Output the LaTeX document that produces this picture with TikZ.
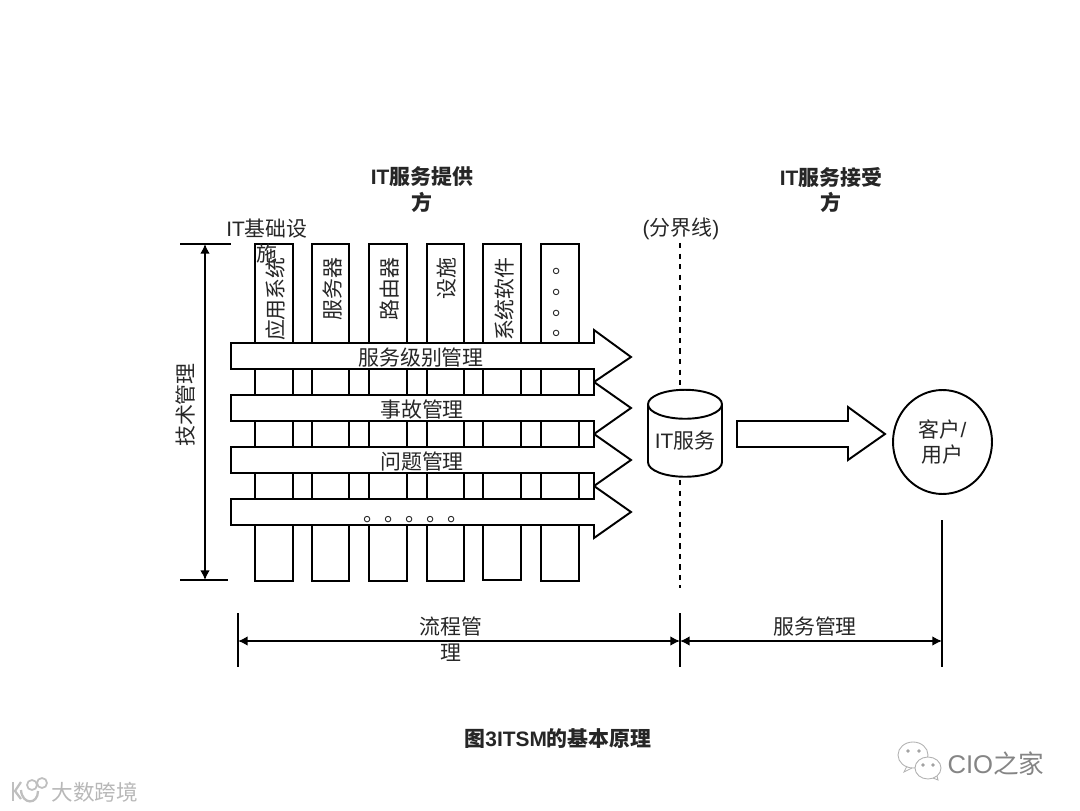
\documentclass[tikz,border=0pt]{standalone}
\usepackage{fontspec}
\setmainfont{Noto Sans CJK SC}
\newfontfamily\itfont{Liberation Sans}
\usetikzlibrary{shapes.geometric,arrows.meta}
\tikzset{
  box/.style={line width=1.1pt,fill=white},
  label/.style={inner sep=0pt,align=center,text=black!85,font=\fontsize{11.9}{14.7}\selectfont},
  head/.style={label,font=\fontsize{11.9}{14.7}\selectfont\bfseries},
  collabel/.style={label,rotate=90,anchor=east},
  dimline/.style={line width=0.9pt},
  dimarrow/.style={line width=0.9pt,{Latex[length=5.5pt,width=5.5pt]}-{Latex[length=5.5pt,width=5.5pt]}},
  mark1/.style={inner sep=0pt,text=black!28,font=\fontsize{12.3}{14}\selectfont},
  mark2/.style={inner sep=0pt,text=black!48,font=\fontsize{14.6}{16}\selectfont}
}
\begin{document}
\begin{tikzpicture}[x=0.02cm,y=-0.02cm]
  \useasboundingbox (0,0) rectangle (1080,811);
  % Titles
  \node[head] (provider) at (422,190) {{\itfont IT}服务提供\\方};
  \node[head] (receiver) at (831,190) {{\itfont IT}服务接受\\方};
  \node[label] (border) at (681,229) {{\itfont (}分界线{\itfont )}};
  % Columns
  \draw[box] (255,244) rectangle (293,581);
  \draw[box] (312,244) rectangle (349,581);
  \draw[box] (369,244) rectangle (407,581);
  \draw[box] (427,244) rectangle (464,581);
  \draw[box] (483,244) rectangle (521,580);
  \draw[box] (541,244) rectangle (579,581);
  \node[collabel] (app) at (276,257) {应用系统};
  \node[collabel] (server) at (333,257) {服务器};
  \node[collabel] (router) at (390,257) {路由器};
  \node[collabel] (facility) at (447,257) {设施};
  \node[collabel] (syssoft) at (505,257) {系统软件};
  \node[collabel] (coldots) at (557,254) {。。。。};
  \node[label] (infra) at (267,241) {{\itfont IT}基础设\\施};
  % Process arrows
  \draw[box] (231,343) -- (594,343) -- (594,330) -- (631,357) -- (594,382) -- (594,369) -- (231,369) -- cycle;
  \draw[box] (231,395) -- (594,395) -- (594,382) -- (631,408) -- (594,434) -- (594,421) -- (231,421) -- cycle;
  \draw[box] (231,447) -- (594,447) -- (594,434) -- (631,460) -- (594,486) -- (594,473) -- (231,473) -- cycle;
  \draw[box] (231,499) -- (594,499) -- (594,486) -- (631,512) -- (594,538) -- (594,525) -- (231,525) -- cycle;
  \node[label] (slm) at (421,358) {服务级别管理};
  \node[label] (incident) at (422,410) {事故管理};
  \node[label] (problem) at (422,462) {问题管理};
  \node[label] (rowdots) at (416,520) {。。。。。};
  % Demarcation line
  \coordinate (bordertop) at (680,243);
  \coordinate (borderlow) at (680,588);
  \node[box,draw,shape=cylinder,shape border rotate=90,aspect=0.48,minimum width=1.48cm,minimum height=1.74cm,inner sep=0pt,font=\fontsize{11.9}{14.7}\selectfont,text=black!85] (itsvc) at (685,441) {{\itfont IT}服务};
  \draw[dimline,dashed] (bordertop) -- (itsvc.north -| bordertop);
  \draw[dimline,dashed] (680,480) -- (borderlow);
  % Service to customer
  \node[box,draw,shape=ellipse,minimum width=1.98cm,minimum height=2.08cm,inner sep=0pt,align=center,font=\fontsize{11.9}{14.7}\selectfont,text=black!85] (client) at (942.5,442) {客户{\itfont /}\\用户};
  \draw[box] (737,421) -- (848,421) -- (848,407) -- (885,434) -- (848,460) -- (848,447) -- (737,447) -- cycle;
  % Dimension lines
  \coordinate (tl) at (180,244);
  \coordinate (tr) at (231,244);
  \coordinate (bl) at (180,580);
  \coordinate (br) at (228,580);
  \coordinate (ta) at (205,244);
  \coordinate (ba) at (205,580);
  \draw[dimline] (tl) -- (tr);
  \draw[dimline] (bl) -- (br);
  \draw[dimarrow] (ta) -- (ba);
  \node[label,rotate=90] (tech) at (186,405) {技术管理};
  \coordinate (d1t) at (238,613);
  \coordinate (d1b) at (238,667);
  \coordinate (d2t) at (680,613);
  \coordinate (d2b) at (680,667);
  \coordinate (d3t) at (942,520);
  \coordinate (d3b) at (942,667);
  \coordinate (a1) at (238,641);
  \coordinate (a2) at (680,641);
  \coordinate (a3) at (942,641);
  \draw[dimline] (d1t) -- (d1b);
  \draw[dimline] (d2t) -- (d2b);
  \draw[dimline] (d3t) -- (d3b);
  \draw[dimarrow] (a1) -- (a2);
  \draw[dimarrow] (a2) -- (a3);
  \node[label] (flowmgmt) at (451,639) {流程管\\理};
  \node[label] (svcmgmt) at (815,627) {服务管理};
  % Caption
  \node[head] (caption) at (558,739) {图{\itfont 3ITSM}的基本原理};
  % Watermarks
  \draw[black!25,line width=1.3pt] (13,782) -- (13,801);
  \draw[black!25,line width=1.3pt] (21,782) -- (15,791) -- (21,799);
  \draw[black!25,line width=1.3pt] (21,790) .. controls (22,805) and (38,805) .. (38,791);
  \draw[black!25,line width=1pt] (32,785) circle (5);
  \draw[black!25,line width=1pt] (42,783) circle (5);
  \node[mark1] (kuajing) at (95,792) {大数跨境};
  \draw[black!30,line width=0.5pt] (913,755) ellipse (15 and 13);
  \draw[black!30,line width=0.5pt] (907,766) -- (904,772) -- (912,768);
  \draw[black!30,fill=white,line width=0.5pt] (928,768) ellipse (13 and 11);
  \draw[black!30,line width=0.5pt] (933,778) -- (938,780) -- (937,776);
  \draw[black!40,line width=0.5pt] (908,751) circle (1.2);
  \draw[black!40,line width=0.5pt] (919,751) circle (1.2);
  \draw[black!40,line width=0.5pt] (923,765) circle (1.2);
  \draw[black!40,line width=0.5pt] (933,765) circle (1.2);
  \node[mark2] (cio) at (996,764) {{\itfont CIO}之家};
\end{tikzpicture}
\end{document}
